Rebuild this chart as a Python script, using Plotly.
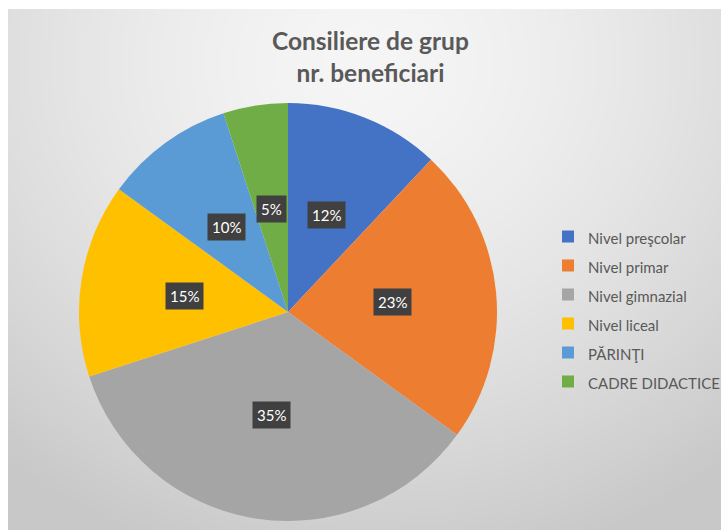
import base64, struct, zlib
import numpy as np
import plotly.graph_objects as go

# ---- data ----
categories = ["Nivel preşcolar", "Nivel primar", "Nivel gimnazial", "Nivel liceal", "PĂRINŢI", "CADRE DIDACTICE"]
values = [12, 23, 35, 15, 10, 5]
colors = ["#4472C4", "#ED7D31", "#A5A5A5", "#FFC000", "#5B9BD5", "#70AD47"]
title_lines = ["Consiliere de grup", "nr. beneficiari"]

W, H = 721, 530
FONT = "Lato"


# ---- radial gradient background as PNG data URI ----
def gradient_png(w, h):
    yy, xx = np.mgrid[0:h, 0:w].astype(float)
    cx, cy = w * 0.5, h * 0.1
    d = np.sqrt(((xx - cx) / (w * 0.8)) ** 2 + ((yy - cy) / (h * 1.0)) ** 2)
    d = np.clip(d, 0, 1)
    val = 246 - 46 * d ** 1.5
    img = np.clip(val, 0, 255).astype(np.uint8)
    raw = b"".join(b"\x00" + img[r].tobytes() for r in range(h))

    def chunk(tag, data):
        c = struct.pack(">I", len(data)) + tag + data
        return c + struct.pack(">I", zlib.crc32(tag + data) & 0xFFFFFFFF)

    png = b"\x89PNG\r\n\x1a\n"
    png += chunk(b"IHDR", struct.pack(">IIBBBBB", w, h, 8, 0, 0, 0, 0))
    png += chunk(b"IDAT", zlib.compress(raw, 9))
    png += chunk(b"IEND", b"")
    return "data:image/png;base64," + base64.b64encode(png).decode()


bg_src = gradient_png(240, 175)

# chart area (pixels)
area_x0, area_y0 = 8, 9
# pie geometry (pixels)
pcx, pcy, R = 288, 312, 209

fig = go.Figure()
fig.add_trace(go.Pie(
    labels=[f"<span style='font-size:15px'>{c}</span>" for c in categories],
    values=values,
    marker=dict(colors=colors, line=dict(width=0)),
    sort=False,
    direction="clockwise",
    rotation=0,
    textinfo="none",
    hoverinfo="label+percent",
    domain=dict(x=[(pcx - R) / W, (pcx + R) / W], y=[1 - (pcy + R) / H, 1 - (pcy - R) / H]),
))

# data labels at half radius on each slice's mid-angle
total = sum(values)
annotations = []
cum = 0
for v in values:
    mid = (cum + v / 2) / total * 2 * np.pi
    cum += v
    px = pcx + 0.5 * R * np.sin(mid)
    py = pcy - 0.5 * R * np.cos(mid)
    annotations.append(dict(
        x=px / W, y=1 - py / H, xref="paper", yref="paper",
        xanchor="center", yanchor="middle",
        text=f"{round(v / total * 100)}%", showarrow=False,
        font=dict(family=FONT, size=15, color="white"),
        bgcolor="#404040", borderpad=4,
    ))

# chart title as an annotation (so it cannot push margins)
annotations.append(dict(
    x=370 / W, y=1 - 57 / H, xref="paper", yref="paper",
    xanchor="center", yanchor="middle", showarrow=False,
    text="<br>".join(title_lines), align="center",
    font=dict(family=FONT, size=24.5, color="#595959", weight="bold"),
))

fig.update_layout(
    width=W, height=H,
    margin=dict(l=0, r=0, t=0, b=0, autoexpand=False),
    paper_bgcolor="white",
    plot_bgcolor="white",
    legend=dict(
        x=548 / W, xanchor="left",
        y=1 - 309 / H, yanchor="middle",
        font=dict(family=FONT, size=20, color="#595959"),
        bgcolor="rgba(0,0,0,0)",
        itemclick=False,
    ),
    annotations=annotations,
    images=[dict(
        source=bg_src, xref="paper", yref="paper",
        x=area_x0 / W, y=1 - area_y0 / H,
        sizex=(W - area_x0) / W, sizey=(H - area_y0) / H,
        xanchor="left", yanchor="top", sizing="stretch", layer="below",
    )],
)

fig.write_html("out.html", config={"displayModeBar": False},
               post_script="document.body.style.margin='0';")
